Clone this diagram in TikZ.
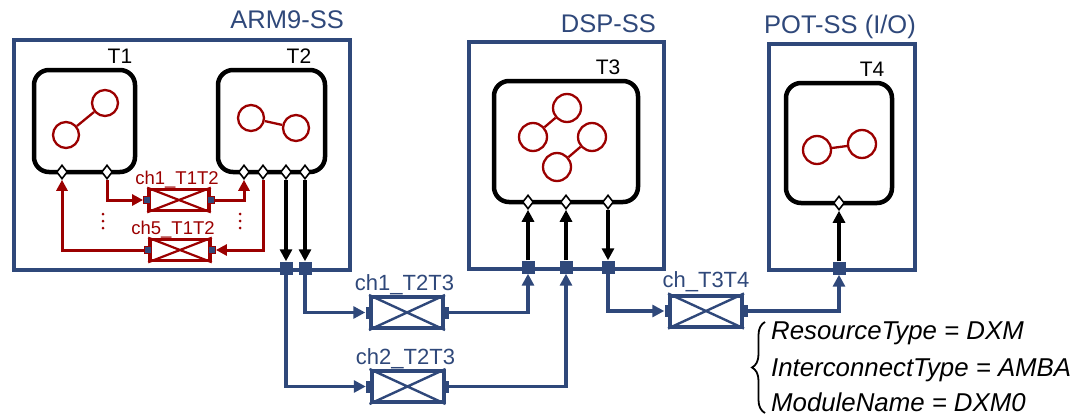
\documentclass[tikz,border=0pt]{standalone}
\usepackage{fontspec}
\setmainfont{Liberation Sans}
\usetikzlibrary{shapes.geometric,arrows.meta,decorations.pathreplacing}
\definecolor{ssblue}{RGB}{47,72,122}
\definecolor{chred}{RGB}{155,0,0}
\begin{document}
\begin{tikzpicture}[x=1pt,y=-1pt,
  ssbox/.style={draw=ssblue,line width=3.8pt,anchor=north west,inner sep=0pt},
  sslabel/.style={text=ssblue,font=\fontsize{25.5}{28}\selectfont,inner sep=0pt},
  task/.style={draw=black,line width=4.5pt,rounded corners=15pt,inner sep=0pt},
  tlabel/.style={font=\fontsize{21}{24}\selectfont,inner sep=0pt,anchor=base},
  actor/.style={circle,draw=chred,line width=2.3pt,minimum size=26pt,inner sep=0pt},
  aline/.style={draw=chred,line width=2.3pt},
  tport/.style={diamond,draw=black,fill=white,line width=1.6pt,minimum width=11pt,minimum height=14pt,inner sep=0pt},
  sq/.style={rectangle,fill=ssblue,minimum size=13pt,inner sep=0pt},
  bchan/.style={rectangle,draw=ssblue,line width=4pt,minimum width=72pt,minimum height=31pt,inner sep=0pt},
  rchan/.style={rectangle,draw=chred,line width=3.6pt,minimum width=60pt,minimum height=21pt,inner sep=0pt},
  bcport/.style={rectangle,fill=ssblue,minimum width=7pt,minimum height=12pt,inner sep=0pt},
  rcport/.style={rectangle,draw=chred,fill=ssblue,line width=1.2pt,minimum size=7pt,inner sep=0pt},
  blab/.style={text=ssblue,font=\fontsize{22}{24}\selectfont,inner sep=0pt,anchor=base},
  rlab/.style={text=chred,font=\fontsize{18.5}{21}\selectfont,inner sep=0pt,anchor=base},
  barrow/.style={draw=black,line width=3.8pt,-{Triangle[length=12pt,width=12pt]}},
  bluearrow/.style={draw=ssblue,line width=3.8pt,-{Triangle[length=12pt,width=12pt]}},
  redarrow/.style={draw=chred,line width=3pt,-{Triangle[length=11pt,width=11pt]}},
  attr/.style={font=\fontsize{25.8}{28}\selectfont\itshape,inner sep=0pt,anchor=base west}
]
\useasboundingbox (0,0) rectangle (1077,415);

% subsystems
\node[ssbox,minimum width=336pt,minimum height=230pt] (arm) at (12,38) {};
\node[ssbox,minimum width=195pt,minimum height=227pt] (dsp) at (467,40) {};
\node[ssbox,minimum width=146pt,minimum height=226pt] (pot) at (767,42) {};
\node[sslabel,anchor=base east] (armlab) at (344,28) {ARM9-SS};
\node[sslabel,anchor=base east] (dsplab) at (656,32) {DSP-SS};
\node[sslabel,anchor=base west] (potlab) at (764,34) {POT-SS (I/O)};

% tasks
\node[task,minimum width=101pt,minimum height=102pt] (t1) at (84.5,121) {};
\node[task,minimum width=107pt,minimum height=102pt] (t2) at (271.5,121) {};
\node[task,minimum width=144pt,minimum height=121pt] (t3) at (566,141.5) {};
\node[task,minimum width=106pt,minimum height=120pt] (t4) at (839,143) {};
\node[tlabel] (t1lab) at (120,63) {T1};
\node[tlabel] (t2lab) at (299,63) {T2};
\node[tlabel] (t3lab) at (608,74) {T3};
\node[tlabel] (t4lab) at (872,76) {T4};

% actors
\node[actor] (a11) at (105,103) {};
\node[actor] (a12) at (66,135) {};
\draw[aline] (a12) -- (a11);
\node[actor] (a21) at (251,118) {};
\node[actor] (a22) at (296,128) {};
\draw[aline] (a21) -- (a22);
\node[actor,minimum size=28pt] (a31) at (567,108) {};
\node[actor,minimum size=28pt] (a32) at (533,137) {};
\node[actor,minimum size=28pt] (a33) at (592,137) {};
\node[actor,minimum size=28pt] (a34) at (557,167) {};
\draw[aline] (a31) -- (a32);
\draw[aline] (a33) -- (a34);
\node[actor,minimum size=28pt] (a41) at (817,150) {};
\node[actor,minimum size=28pt] (a42) at (862,144) {};
\draw[aline] (a41) -- (a42);

% task ports
\node[tport] (t1a) at (62,172) {};
\node[tport] (t1b) at (107,172) {};
\node[tport] (t2a) at (244,172) {};
\node[tport] (t2b) at (263,172) {};
\node[tport] (t2c) at (286,172) {};
\node[tport] (t2d) at (305,172) {};
\node[tport] (t3a) at (528,202) {};
\node[tport] (t3b) at (566,202) {};
\node[tport] (t3c) at (608,202) {};
\node[tport] (t4a) at (839,203) {};

% subsystem ports
\node[sq] (s1) at (286,268) {};
\node[sq] (s2) at (305,268) {};
\node[sq] (s3) at (528,267) {};
\node[sq] (s4) at (566,267) {};
\node[sq] (s5) at (608,267) {};
\node[sq] (s6) at (839,268) {};

% red channels
\node[rchan] (c11) at (179,200) {};
\draw[draw=chred,line width=2.2pt] (c11.north west) -- (c11.south east) (c11.south west) -- (c11.north east);
\node[rcport] (c11l) at (c11.west) {};
\node[rcport] (c11r) at (c11.east) {};
\node[rlab] (c11lab) at (177,184) {ch1\_T1T2};
\node[rchan] (c15) at (180,250) {};
\draw[draw=chred,line width=2.2pt] (c15.north west) -- (c15.south east) (c15.south west) -- (c15.north east);
\node[rcport] (c15l) at (c15.west) {};
\node[rcport] (c15r) at (c15.east) {};
\node[rlab] (c15lab) at (173,234) {ch5\_T1T2};

% blue channels
\node[bchan] (c23a) at (407,312.5) {};
\draw[draw=ssblue,line width=2.4pt] (c23a.north west) -- (c23a.south east) (c23a.south west) -- (c23a.north east);
\node[bcport] (c23al) at (c23a.west) {};
\node[bcport] (c23ar) at (c23a.east) {};
\node[blab] (c23alab) at (404.5,290) {ch1\_T2T3};
\node[bchan] (c23b) at (407.5,386.5) {};
\draw[draw=ssblue,line width=2.4pt] (c23b.north west) -- (c23b.south east) (c23b.south west) -- (c23b.north east);
\node[bcport] (c23bl) at (c23b.west) {};
\node[bcport] (c23br) at (c23b.east) {};
\node[blab] (c23blab) at (405.5,364) {ch2\_T2T3};
\node[bchan] (c34) at (706,311) {};
\draw[draw=ssblue,line width=2.4pt] (c34.north west) -- (c34.south east) (c34.south west) -- (c34.north east);
\node[bcport] (c34l) at (c34.west) {};
\node[bcport] (c34r) at (c34.east) {};
\node[blab] (c34lab) at (706,287) {ch\_T3T4};

% red connectors
\draw[redarrow] (t1b.south) |- (c11l.west);
\draw[redarrow] (c11r.east) -| (t2a.south);
\draw[redarrow] (t2b.south) |- (c15r.east);
\draw[redarrow] (c15l.west) -| (t1a.south);
\foreach \yy in {214,221,228} {
  \fill[chred] (103,\yy) circle (1.5pt);
  \fill[chred] (240,\yy) circle (1.5pt);
}

% black connectors
\draw[barrow] (t2c.south) -- (s1.north);
\draw[barrow] (t2d.south) -- (s2.north);
\draw[barrow] (s3.north) -- (t3a.south);
\draw[barrow] (s4.north) -- (t3b.south);
\draw[barrow] (t3c.south) -- (s5.north);
\draw[barrow] (s6.north) -- (t4a.south);

% blue connectors
\draw[bluearrow] (s2.south) |- (c23al.west);
\draw[bluearrow] (s1.south) |- (c23bl.west);
\draw[bluearrow] (c23ar.east) -| (s3.south);
\draw[bluearrow] (c23br.east) -| (s4.south);
\draw[bluearrow] (s5.south) |- (c34l.west);
\draw[bluearrow] (c34r.east) -| (s6.south);

% attributes
\coordinate (br1) at (765,413);
\coordinate (br2) at (765,322);
\draw[line width=1.8pt,decorate,decoration={brace,amplitude=13pt}] (br1) -- (br2);
\node[attr] (at1) at (771,339) {ResourceType = DXM};
\node[attr] (at2) at (771,376) {InterconnectType = AMBA};
\node[attr] (at3) at (771,411) {ModuleName = DXM0};
\end{tikzpicture}
\end{document}
